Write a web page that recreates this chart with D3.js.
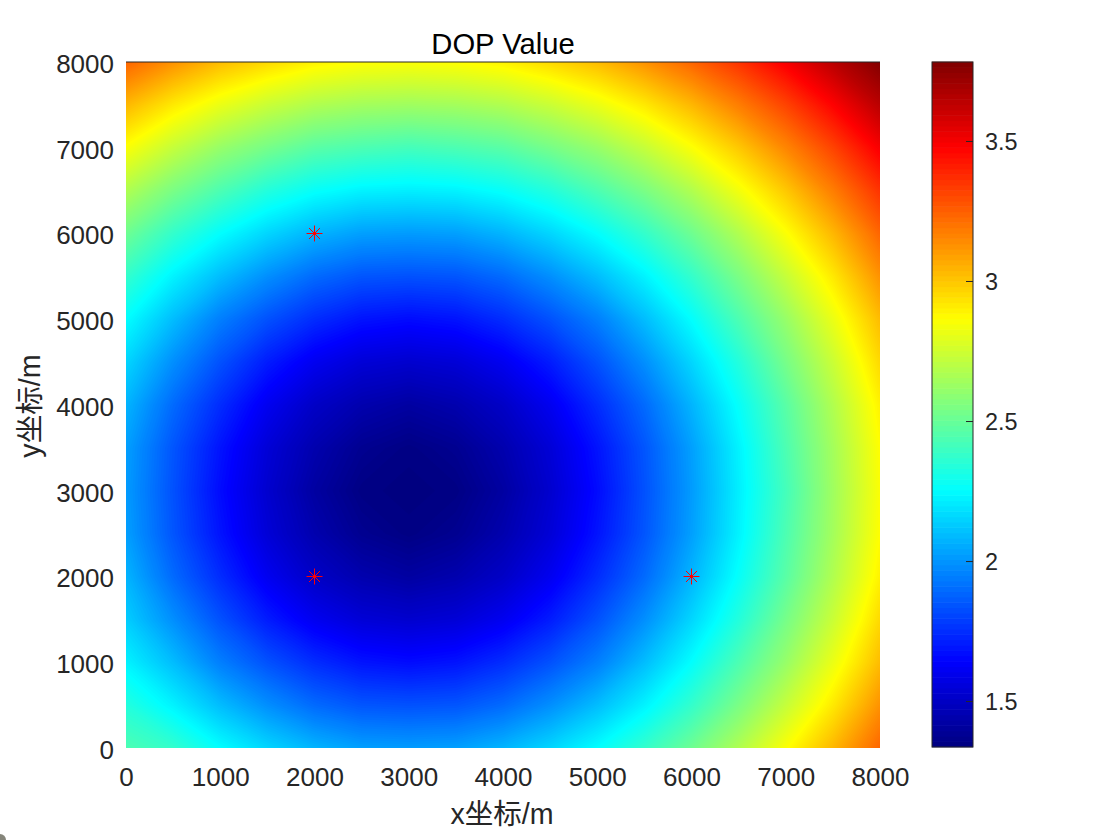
<!DOCTYPE html>
<html>
<head>
<meta charset="utf-8">
<script src="https://cdn.jsdelivr.net/npm/d3@7"></script>
<style>
  html, body { margin: 0; padding: 0; background: #fff; overflow: hidden; }
  text { font-family: "Liberation Sans", "Noto Sans CJK SC", sans-serif; }
</style>
</head>
<body>
<svg id="chart" width="1120" height="840"></svg>
<script>
// values, grid step is gridStep metres, first row is y = 0
var gridStep = 500;
var dopGrid = [
  [2.44,2.38,2.26,2.16,2.08,2.03,2.02,2.03,2.08,2.16,2.26,2.38,2.52,2.68,2.86,3.04,3.24],
  [2.34,2.23,2.10,1.99,1.90,1.85,1.84,1.85,1.90,1.99,2.10,2.23,2.38,2.55,2.73,2.92,3.13],
  [2.23,2.10,1.95,1.84,1.75,1.69,1.67,1.69,1.75,1.84,1.95,2.10,2.26,2.44,2.62,2.82,3.03],
  [2.14,1.99,1.84,1.71,1.61,1.55,1.53,1.55,1.61,1.71,1.84,1.99,2.16,2.34,2.54,2.74,2.96],
  [2.08,1.90,1.75,1.61,1.51,1.45,1.42,1.45,1.51,1.61,1.75,1.90,2.08,2.27,2.47,2.68,2.90],
  [2.03,1.85,1.69,1.55,1.45,1.38,1.35,1.38,1.45,1.55,1.69,1.85,2.03,2.23,2.44,2.65,2.87],
  [2.02,1.84,1.67,1.53,1.42,1.35,1.34,1.35,1.42,1.53,1.67,1.84,2.02,2.22,2.42,2.64,2.86],
  [2.03,1.85,1.69,1.55,1.45,1.38,1.35,1.38,1.45,1.55,1.69,1.85,2.03,2.23,2.44,2.65,2.87],
  [2.08,1.90,1.75,1.61,1.51,1.45,1.42,1.45,1.51,1.61,1.75,1.90,2.08,2.27,2.47,2.68,2.90],
  [2.16,1.99,1.84,1.71,1.61,1.55,1.53,1.55,1.61,1.71,1.84,1.99,2.16,2.34,2.54,2.74,2.96],
  [2.26,2.10,1.95,1.84,1.75,1.69,1.67,1.69,1.75,1.84,1.95,2.10,2.26,2.44,2.62,2.82,3.03],
  [2.38,2.23,2.10,1.99,1.90,1.85,1.84,1.85,1.90,1.99,2.10,2.23,2.38,2.55,2.73,2.92,3.13],
  [2.52,2.38,2.26,2.16,2.08,2.03,2.02,2.03,2.08,2.16,2.26,2.38,2.52,2.68,2.86,3.04,3.24],
  [2.68,2.55,2.44,2.34,2.27,2.23,2.22,2.23,2.27,2.34,2.44,2.55,2.68,2.84,3.00,3.18,3.36],
  [2.86,2.73,2.62,2.54,2.47,2.44,2.42,2.44,2.47,2.54,2.62,2.73,2.86,3.00,3.16,3.32,3.50],
  [3.04,2.92,2.82,2.74,2.68,2.65,2.64,2.65,2.68,2.74,2.82,2.92,3.04,3.18,3.32,3.48,3.65],
  [3.24,3.13,3.03,2.96,2.90,2.87,2.86,2.87,2.90,2.96,3.03,3.13,3.24,3.36,3.50,3.65,3.78]
];
var stationX = [2000, 2000, 6000];
var stationY = [2000, 6000, 2000];
var axisTicks = [0, 1000, 2000, 3000, 4000, 5000, 6000, 7000, 8000];
var colorTicks = [1.5, 2, 2.5, 3, 3.5];
var colorRange = [1.336, 3.782];

var svg = d3.select("#chart");

var x = d3.scaleLinear().domain([0, 8000]).range([126, 880]);
var y = d3.scaleLinear().domain([0, 8000]).range([748, 62]);
var cbY = d3.scaleLinear().domain(colorRange).range([747, 62]);

// jet colormap, stops as fraction of the colour range
var jetT = d3.scaleLinear().domain(colorRange).range([0, 1]);
var jet = d3.scaleLinear()
  .domain([0, 1 / 8, 3 / 8, 5 / 8, 7 / 8, 1])
  .range(["#000080", "#0000ff", "#00ffff", "#ffff00", "#ff0000", "#800000"])
  .clamp(true);
var color = function(v) { return jet(jetT(v)); };

svg.append("clipPath").attr("id", "plotClip")
  .append("rect")
  .attr("x", x(0)).attr("y", y(8000))
  .attr("width", x(8000) - x(0)).attr("height", y(0) - y(8000));

// the field as stacked filled contours
var levels = d3.range(256).map(function(i) {
  return colorRange[0] + (colorRange[1] - colorRange[0]) * i / 256;
});
var nRows = dopGrid.length;
var contours = d3.contours()
  .size([dopGrid[0].length, nRows])
  .thresholds(levels)(dopGrid.flat());

var toPlot = d3.geoTransform({
  point: function(cx, cy) {
    this.stream.point(x((cx - 0.5) * gridStep), y((cy - 0.5) * gridStep));
  }
});
var contourPath = d3.geoPath(toPlot);

var field = svg.append("g").attr("clip-path", "url(#plotClip)");
field.append("rect")
  .attr("x", x(0)).attr("y", y(8000))
  .attr("width", x(8000) - x(0)).attr("height", y(0) - y(8000))
  .attr("fill", color(colorRange[0]));
field.selectAll("path")
  .data(contours)
  .join("path")
  .attr("d", contourPath)
  .attr("fill", function(d) { return color(d.value); });

// only the top edge of the box shows, the image hides the others
svg.append("line")
  .attr("x1", x(0)).attr("x2", x(8000))
  .attr("y1", y(8000)).attr("y2", y(8000))
  .attr("stroke", "#262626").attr("stroke-width", 1);

// station markers, a plus and a times on top of each other
var plusPath = d3.symbol().type(d3.symbolPlus).size(85)();
var timesPath = d3.symbol().type(d3.symbolTimes).size(81)();
stationX.forEach(function(sx, i) {
  var g = svg.append("g")
    .attr("transform", "translate(" + x(sx) + "," + y(stationY[i]) + ")")
    .attr("fill", "none").attr("stroke", "#f00").attr("stroke-width", 1);
  g.append("path").attr("d", plusPath);
  g.append("path").attr("d", timesPath);
});

// axes
var xAxis = svg.append("g")
  .attr("transform", "translate(0,748)")
  .call(d3.axisBottom(x).tickValues(axisTicks).tickSize(0).tickPadding(20).tickFormat(d3.format("d")));
var yAxis = svg.append("g")
  .attr("transform", "translate(126,0)")
  .call(d3.axisLeft(y).tickValues(axisTicks).tickSize(0).tickPadding(12).tickFormat(d3.format("d")));
[xAxis, yAxis].forEach(function(a) {
  a.select(".domain").remove();
  a.selectAll("text")
    .attr("fill", "#262626")
    .style("font-size", "26px");
});
yAxis.selectAll("text").attr("dy", "0.4em");

// colorbar
var cbLeft = 932, cbRight = 973;
var cbLevels = d3.range(128).map(function(i) {
  return colorRange[0] + (colorRange[1] - colorRange[0]) * i / 128;
});
var cbStep = (colorRange[1] - colorRange[0]) / 128;
svg.append("g").selectAll("rect")
  .data(cbLevels)
  .join("rect")
  .attr("x", cbLeft)
  .attr("width", cbRight - cbLeft)
  .attr("y", function(d) { return cbY(d + cbStep) - 0.3; })
  .attr("height", function(d) { return cbY(d) - cbY(d + cbStep) + 0.6; })
  .attr("fill", function(d) { return color(d + cbStep / 2); });
svg.append("rect")
  .attr("x", cbLeft).attr("y", 62)
  .attr("width", cbRight - cbLeft).attr("height", 685)
  .attr("fill", "none").attr("stroke", "#262626").attr("stroke-width", 1);
var cbAxis = svg.append("g")
  .attr("transform", "translate(" + cbRight + ",0)")
  .call(d3.axisRight(cbY).tickValues(colorTicks).tickSizeInner(-7).tickSizeOuter(0).tickPadding(12).tickFormat(d3.format("")));
cbAxis.select(".domain").remove();
cbAxis.selectAll("line").attr("stroke", "#262626");
cbAxis.selectAll("text")
  .attr("dy", "0.36em")
  .attr("fill", "#262626")
  .style("font-size", "23.4px");

// titles
svg.append("text")
  .attr("x", 503).attr("y", 53.5)
  .attr("text-anchor", "middle")
  .attr("fill", "#000")
  .style("font-size", "29.2px")
  .text("DOP Value");
svg.append("text")
  .attr("x", 502).attr("y", 824)
  .attr("text-anchor", "middle")
  .attr("fill", "#262626")
  .style("font-size", "28.6px")
  .text("x坐标/m");
svg.append("text")
  .attr("transform", "translate(40,406) rotate(-90)")
  .attr("text-anchor", "middle")
  .attr("fill", "#262626")
  .style("font-size", "28.6px")
  .text("y坐标/m");

// small grey spot in the bottom left corner of the screenshot
svg.append("circle")
  .attr("cx", 0).attr("cy", 840).attr("r", 6)
  .attr("fill", "#85857a");
</script>
</body>
</html>
